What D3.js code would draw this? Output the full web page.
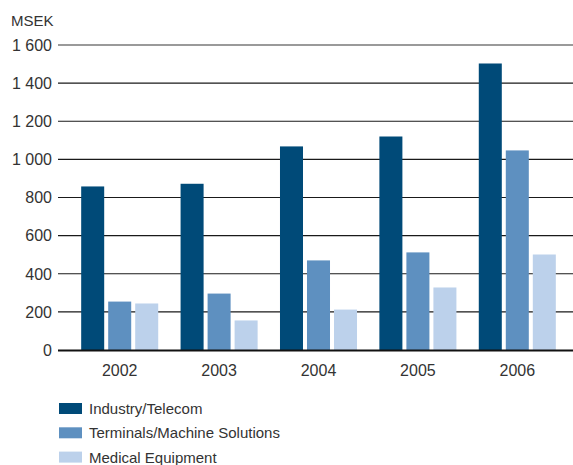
<!DOCTYPE html>
<html>
<head>
<meta charset="utf-8">
<script src="https://cdn.jsdelivr.net/npm/d3@7"></script>
<style>
  html, body { margin: 0; padding: 0; background: #fff; }
  svg { display: block; font-family: "Liberation Sans", Arial, sans-serif; }
</style>
</head>
<body>
<svg id="chart" width="573" height="465"></svg>
<script>
// Net sales per business area, MSEK
const years = ["2002", "2003", "2004", "2005", "2006"];
const seriesNames = ["Industry/Telecom", "Terminals/Machine Solutions", "Medical Equipment"];
const industryTelecom = [858, 872, 1068, 1120, 1503];
const terminalsMachine = [254, 296, 470, 512, 1047];
const medicalEquipment = [244, 155, 212, 328, 501];
const yTicks = [0, 200, 400, 600, 800, 1000, 1200, 1400, 1600];
const colors = ["#004a78", "#5e90c0", "#bcd1eb"];

const seriesValues = [industryTelecom, terminalsMachine, medicalEquipment];
const rows = years.map((yr, i) => ({
  year: yr,
  values: seriesNames.map((s, j) => ({ key: s, value: seriesValues[j][i] }))
}));

const svg = d3.select("#chart");
const gridLeft = 58, gridRight = 573;

const y = d3.scaleLinear().domain([0, 1600]).range([350, 45]);

const x0 = d3.scaleBand().domain(years).range([70, 567])
  .paddingInner(0.225).paddingOuter(0.1125);
const x1 = d3.scaleBand().domain(seriesNames).range([0, x0.bandwidth()])
  .paddingInner(0.148).paddingOuter(0);

const fmt = v => d3.format(",")(v).replace(/,/g, " ");

// Horizontal gridlines and tick labels
const yAxis = svg.append("g");
yAxis.selectAll("line.grid")
  .data(yTicks.filter(t => t > 0))
  .join("line")
  .attr("class", "grid")
  .attr("x1", gridLeft).attr("x2", gridRight)
  .attr("y1", d => y(d)).attr("y2", d => y(d))
  .attr("stroke", d => d === 1600 ? "#9a9a9a" : "#1a1a1a")
  .attr("stroke-width", d => d === 1600 ? 2 : 1.2);

yAxis.selectAll("text")
  .data(yTicks)
  .join("text")
  .attr("x", 52)
  .attr("y", d => y(d))
  .attr("dy", "0.36em")
  .attr("text-anchor", "end")
  .attr("font-size", 16)
  .attr("fill", "#333")
  .text(fmt);

svg.append("text")
  .attr("x", 11).attr("y", 26)
  .attr("font-size", 15)
  .attr("fill", "#333")
  .text("MSEK");

// Bars
const groups = svg.append("g").selectAll("g")
  .data(rows)
  .join("g")
  .attr("transform", d => `translate(${x0(d.year)},0)`);

groups.selectAll("rect")
  .data(d => d.values)
  .join("rect")
  .attr("x", d => x1(d.key))
  .attr("width", x1.bandwidth())
  .attr("y", d => y(d.value))
  .attr("height", d => y(0) - y(d.value))
  .attr("fill", (d, i) => colors[i]);

// Baseline
svg.append("line")
  .attr("x1", gridLeft).attr("x2", gridRight)
  .attr("y1", y(0) + 0.5).attr("y2", y(0) + 0.5)
  .attr("stroke", "#111").attr("stroke-width", 2);

// Year labels
svg.append("g").selectAll("text")
  .data(years)
  .join("text")
  .attr("x", d => x0(d) + x0.bandwidth() / 2)
  .attr("y", 376)
  .attr("text-anchor", "middle")
  .attr("font-size", 16)
  .attr("fill", "#333")
  .text(d => d);

// Legend
const legend = svg.append("g").selectAll("g")
  .data(seriesNames)
  .join("g")
  .attr("transform", (d, i) => `translate(59,${403 + i * 24.3})`);

legend.append("rect")
  .attr("width", 23).attr("height", 11)
  .attr("fill", (d, i) => colors[i]);

legend.append("text")
  .attr("x", 30).attr("y", 11)
  .attr("font-size", 15)
  .attr("fill", "#333")
  .text(d => d);
</script>
</body>
</html>
